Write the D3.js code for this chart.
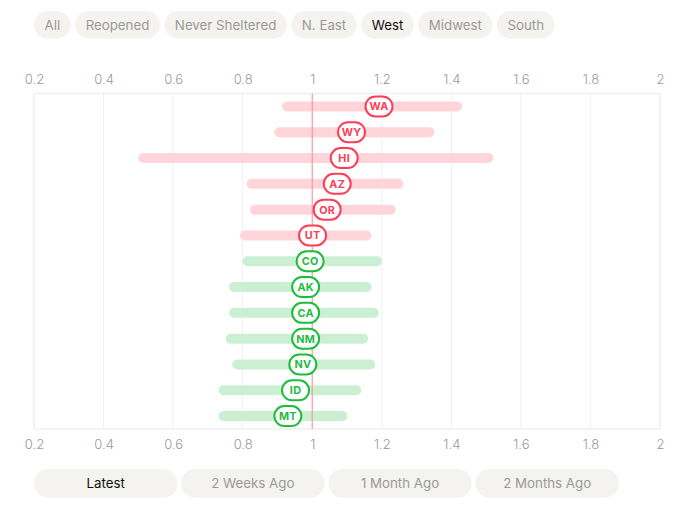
<!DOCTYPE html>
<html><head><meta charset="utf-8">
<script src="https://cdn.jsdelivr.net/npm/d3@7"></script>
<style>
html,body{margin:0;padding:0;background:#fff;}
svg{display:block;font-family:"Inter","Liberation Sans",sans-serif;}
</style></head>
<body><svg id="c" width="687" height="507"></svg>
<script>
const regions = ["All","Reopened","Never Sheltered","N. East","West","Midwest","South"];
const selectedRegion = "West";
const periods = ["Latest","2 Weeks Ago","1 Month Ago","2 Months Ago"];
const selectedPeriod = "Latest";
const states = ["WA","WY","HI","AZ","OR","UT","CO","AK","CA","NM","NV","ID","MT"];
const lowVals  = [0.913,0.891,0.500,0.811,0.821,0.792,0.800,0.761,0.761,0.751,0.770,0.731,0.731];
const midVals  = [1.192,1.113,1.092,1.072,1.043,1.001,0.994,0.981,0.981,0.981,0.973,0.952,0.930];
const highVals = [1.431,1.351,1.521,1.262,1.240,1.170,1.201,1.171,1.191,1.161,1.181,1.141,1.101];
const rising   = [true,true,true,true,true,true,false,false,false,false,false,false,false];
const xTicks = [0.2,0.4,0.6,0.8,1,1.2,1.4,1.6,1.8,2];

(function(){
const svg = d3.select("#c");
const pL=34, pR=660, pT=93.5, pB=429;
const x = d3.scaleLinear().domain([0.2,2]).range([pL,pR]);
const y = d3.scaleBand().domain(states).range([pT,pB]).padding(0);

const RED="#ff3b55", PINK="#ffd5da", GREEN="#1dbd3c", LGREEN="#cbefd3";

// region buttons
const gTop = svg.append("g");
let bx = 34;
regions.forEach(r=>{
  const t = gTop.append("text").attr("y",25).attr("dy","0.35em")
    .attr("font-size",13.3).attr("fill", r===selectedRegion?"#111":"#9a9a9a").text(r);
  const w = t.node().getComputedTextLength()+21;
  gTop.insert("rect","text").attr("x",bx).attr("y",11).attr("width",w).attr("height",27.5)
    .attr("rx",13.75).attr("fill","#f4f3ef");
  t.attr("x",bx+w/2).attr("text-anchor","middle");
  bx += w+4.5;
});

// frame & grid
svg.append("rect").attr("x",pL).attr("y",pT).attr("width",pR-pL).attr("height",pB-pT)
  .attr("fill","none").attr("stroke","#efefef").attr("stroke-width",1.5);
svg.append("g").selectAll("line").data(xTicks.slice(1,-1)).join("line")
  .attr("x1",d=>x(d)).attr("x2",d=>x(d)).attr("y1",pT).attr("y2",pB)
  .attr("stroke","#f0f0f0").attr("stroke-width",1);

// axes
const axTop = svg.append("g").attr("transform",`translate(0,${pT-8})`)
  .call(d3.axisTop(x).tickValues(xTicks).tickFormat(d3.format("")).tickSize(0).tickPadding(0));
const axBot = svg.append("g").attr("transform",`translate(0,${pB+10})`)
  .call(d3.axisBottom(x).tickValues(xTicks).tickFormat(d3.format("")).tickSize(0).tickPadding(0));
[axTop,axBot].forEach(a=>{
  a.select(".domain").remove();
  a.selectAll("text").attr("font-size",13).attr("fill","#999").attr("font-weight",300)
   .attr("font-family","Inter, Liberation Sans, sans-serif");
});
axTop.selectAll("text").attr("dy","-0.1em");
axBot.selectAll("text").attr("dy","0.75em");

// bars
const idx = d3.range(states.length);
svg.append("g").selectAll("rect").data(idx).join("rect")
  .attr("x",i=>x(lowVals[i])).attr("width",i=>x(highVals[i])-x(lowVals[i]))
  .attr("y",i=>y(states[i])+y.bandwidth()/2-5).attr("height",10).attr("rx",5)
  .attr("fill",i=>rising[i]?PINK:LGREEN);

// reference line
svg.append("line").attr("x1",x(1)).attr("x2",x(1)).attr("y1",pT).attr("y2",pB)
  .attr("stroke","#ff8a99").attr("stroke-width",1);

// labels
const lab = svg.append("g").selectAll("g").data(idx).join("g")
  .attr("transform",i=>`translate(${x(midVals[i])},${y(states[i])+y.bandwidth()/2})`);
lab.append("rect").attr("x",-13.5).attr("y",-10).attr("width",27).attr("height",20).attr("rx",10)
  .attr("fill","#fff").attr("stroke",i=>rising[i]?RED:GREEN).attr("stroke-width",2);
lab.append("text").attr("text-anchor","middle").attr("dy","0.36em").attr("font-size",10.8)
  .attr("font-weight",700).attr("letter-spacing",0.3).attr("fill",i=>rising[i]?RED:GREEN)
  .text(i=>states[i]);

// period buttons
const gB = svg.append("g");
periods.forEach((p,i)=>{
  const px = 34 + i*147.2;
  gB.append("rect").attr("x",px).attr("y",469).attr("width",143.3).attr("height",28.5).attr("rx",14)
    .attr("fill","#f4f3ef");
  gB.append("text").attr("x",px+71.6).attr("y",483.3).attr("dy","0.35em").attr("text-anchor","middle")
    .attr("font-size",13.3).attr("fill",p===selectedPeriod?"#111":"#9a9a9a").text(p);
});
})();
</script></body></html>
